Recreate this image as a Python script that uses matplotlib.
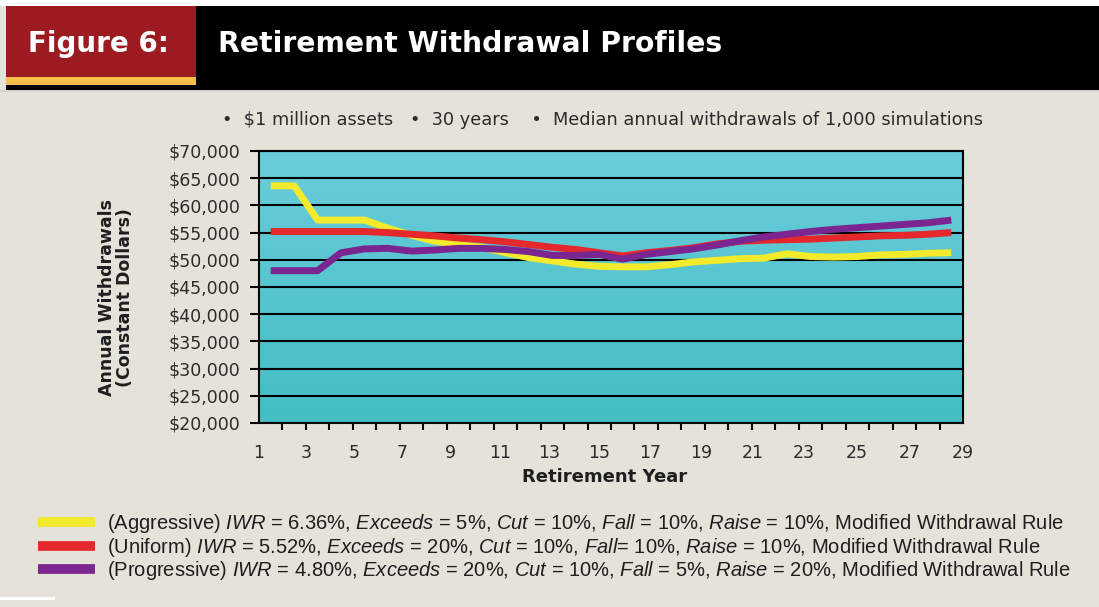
import numpy as np
import matplotlib.pyplot as plt
from matplotlib.patches import Rectangle
from matplotlib.colors import LinearSegmentedColormap

# Données (retraits médians annuels, dollars constants)
years = np.arange(1, 31)
aggressive = [63600, 63600, 57300, 57300, 57300, 55800, 54500, 53400, 52800, 52300,
              51300, 50400, 49800, 49200, 48800, 48700, 48700, 49100, 49600, 49900,
              50200, 50300, 51100, 50600, 50500, 50600, 50900, 51000, 51200, 51300]
uniform = [55200, 55200, 55200, 55200, 55200, 55000, 54700, 54400, 54000, 53700,
           53300, 52800, 52300, 51900, 51300, 50700, 51300, 51700, 52200, 52900,
           53400, 53600, 53700, 53800, 54000, 54200, 54400, 54500, 54700, 55000]
progressive = [48000, 48000, 48000, 51300, 52000, 52100, 51600, 51800, 52100, 52100,
               51900, 51500, 50800, 50800, 51000, 50100, 51000, 51500, 52000, 52700,
               53500, 54200, 54700, 55200, 55600, 55900, 56200, 56500, 56800, 57300]
y_ticks = list(range(20000, 70001, 5000))
x_tick_labels = list(range(1, 30, 2))

labels = [
    r'(Aggressive) $\mathit{IWR}$ = 6.36%, $\mathit{Exceeds}$ = 5%, $\mathit{Cut}$ = 10%, '
    r'$\mathit{Fall}$ = 10%, $\mathit{Raise}$ = 10%, Modified Withdrawal Rule',
    r'(Uniform) $\mathit{IWR}$ = 5.52%, $\mathit{Exceeds}$ = 20%, $\mathit{Cut}$ = 10%, '
    r'$\mathit{Fall}$= 10%, $\mathit{Raise}$ = 10%, Modified Withdrawal Rule',
    r'(Progressive) $\mathit{IWR}$ = 4.80%, $\mathit{Exceeds}$ = 20%, $\mathit{Cut}$ = 10%, '
    r'$\mathit{Fall}$ = 5%, $\mathit{Raise}$ = 20%, Modified Withdrawal Rule',
]
colors = ['#F2EA2A', '#E4282B', '#7A2590']

plt.rcParams['font.family'] = ['DejaVu Sans']
plt.rcParams['mathtext.fontset'] = 'custom'
plt.rcParams['mathtext.rm'] = 'Liberation Sans'
plt.rcParams['mathtext.it'] = 'Liberation Sans:italic'

W, H = 1099, 607
BG = '#E5E2D9'
fig = plt.figure(figsize=(W / 100, H / 100), dpi=100, facecolor=BG)


def rect_px(x0, y0, x1, y1, color):
    # rectangle en pixels (origine en haut à gauche)
    fig.add_artist(Rectangle((x0 / W, 1 - y1 / H), (x1 - x0) / W, (y1 - y0) / H,
                             transform=fig.transFigure, color=color, lw=0))


# Bandeau du titre
rect_px(0, 0, W, 6, 'white')
rect_px(6, 6, W, 90, 'black')
rect_px(6, 6, 196, 77, '#9C1B21')
rect_px(6, 77, 196, 85, '#F6BE4A')
rect_px(0, 90, W, 92, '#D3D1C9')
rect_px(0, 597, 55, 600, 'white')

fig.text(28 / W, 1 - 44 / H, 'Figure 6:', color='white', fontsize=20,
         fontweight='bold', va='center', ha='left')
fig.text(218 / W, 1 - 44 / H, 'Retirement Withdrawal Profiles', color='white',
         fontsize=20.3, fontweight='bold', va='center', ha='left')

fig.text(602 / W, 1 - 120 / H,
         '•  \\$1 million assets   •  30 years    •  Median annual withdrawals of 1,000 simulations',
         fontsize=12.8, color='#2B2B2B', ha='center', va='center')

# Zone du graphique
ax = fig.add_axes([259 / W, 1 - 423 / H, (963 - 259) / W, (423 - 151) / H])
ax.set_xlim(0.5, 30.5)
ax.set_ylim(20000, 70000)

cmap = LinearSegmentedColormap.from_list('bleu', ['#6BCCDC', '#43BEC3'])
ax.imshow(np.linspace(0, 1, 256).reshape(-1, 1), cmap=cmap, aspect='auto',
          extent=[0.5, 30.5, 20000, 70000], zorder=0)

lines = []
for vals, c in zip([aggressive, uniform, progressive], colors):
    ln, = ax.plot(years, vals, color=c, lw=5, solid_capstyle='butt',
                  solid_joinstyle='round', zorder=3)
    lines.append(ln)

ax.set_yticks(y_ticks)
ax.set_yticklabels(['\\${:,.0f}'.format(v) for v in y_ticks])
ax.yaxis.grid(True, color='black', lw=1.5)
ax.tick_params(axis='y', length=6.5, width=1.5, pad=7, labelsize=12.5,
               labelcolor='#2B2B2B')

# étiquettes x (décalées comme dans l'original), graduations aux bords des catégories
n = np.array(x_tick_labels)
ax.set_xticks((n - 0.5) + ((n - 1) / 28.0) ** 2 * 2)
ax.set_xticklabels([str(v) for v in x_tick_labels])
ax.set_xticks(np.arange(0.5, 31, 1), minor=True)
ax.tick_params(axis='x', which='major', length=0, pad=15, labelsize=12.5,
               labelcolor='#2B2B2B')
ax.tick_params(axis='x', which='minor', length=5, width=1.5, direction='out')

for s in ax.spines.values():
    s.set_linewidth(1.5)
    s.set_color('black')

fig.text(605 / W, 1 - 477 / H, 'Retirement Year', fontsize=13, fontweight='bold',
         color='#1E1E1E', ha='center', va='center')
fig.text(116 / W, 1 - 298 / H, 'Annual Withdrawals\n(Constant Dollars)', fontsize=12.5,
         fontweight='bold', color='#1E1E1E', rotation=90, ha='center', va='center',
         multialignment='center', linespacing=1.0)

# Légende
leg = fig.legend(lines, labels, loc='upper left', bbox_to_anchor=(38 / W, 1 - 512 / H),
                 frameon=False, prop={'family': 'Liberation Sans', 'size': 14.5},
                 handlelength=2.85, handletextpad=0.6, labelspacing=0.03,
                 borderpad=0, borderaxespad=0)
for t in leg.get_texts():
    t.set_color('#1E1E1E')
for h in leg.get_lines():
    h.set_linewidth(7)

fig.savefig('out.png', dpi=100, facecolor=BG)
